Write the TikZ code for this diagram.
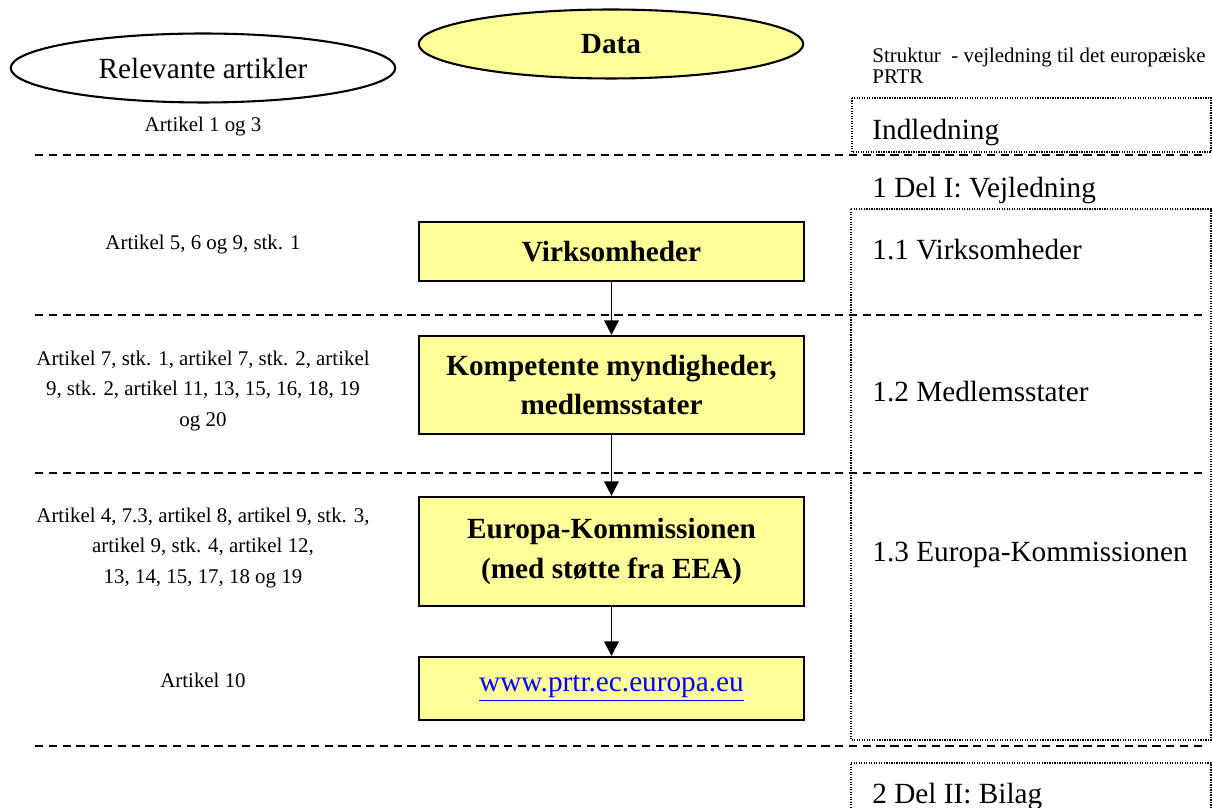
\documentclass[tikz,border=0pt]{standalone}
\usepackage{fontspec}
\setmainfont{Liberation Serif}
\usetikzlibrary{shapes.geometric, arrows.meta}
\definecolor{lightyellow}{HTML}{FFFF99}
\definecolor{linkblue}{HTML}{0000FF}

\begin{document}
\begin{tikzpicture}[x=0.4785pt, y=-0.4785pt,
    head/.style={ellipse, draw, line width=1pt, minimum width=184pt, minimum height=33pt, font=\fontsize{14}{16}\selectfont},
    actor/.style={rectangle, draw, line width=1pt, fill=lightyellow, minimum width=184pt, align=center, font=\fontsize{14}{19}\selectfont\bfseries},
    article/.style={align=center, font=\fontsize{10}{14.4}\selectfont},
    chapter/.style={anchor=base west, inner sep=0pt, font=\fontsize{14}{16}\selectfont},
    frame/.style={dash pattern=on 0.6pt off 0.6pt, line width=0.6pt},
    divider/.style={dash pattern=on 4pt off 2.6pt, line width=1pt},
    flow/.style={-{Triangle[width=7pt, length=7pt]}, line width=0.8pt}]
    \useasboundingbox (0, 0) rectangle (1212, 808);

    \node[head] (articles) at (203, 68) {Relevante artikler};
    \node[head, fill=lightyellow, font=\fontsize{14}{16}\selectfont\bfseries] (data) at (611, 44) {Data};
    \node[anchor=north west, inner sep=0pt, align=left, font=\fontsize{10}{10.2}\selectfont] (structure) at (872, 47.5)
      {Struktur\ \ - vejledning til det europæiske\\PRTR};

    \node[article] (art13) at (203, 127) {Artikel 1 og 3};
    \node[article] (art569) at (203, 245) {Artikel 5, 6 og 9, stk. 1};
    \node[article] (art7) at (203, 391) {Artikel 7, stk. 1, artikel 7, stk. 2, artikel\\9, stk. 2, artikel 11, 13, 15, 16, 18, 19\\og 20};
    \node[article] (art4) at (203, 548) {Artikel 4, 7.3, artikel 8, artikel 9, stk. 3,\\artikel 9, stk. 4, artikel 12,\\13, 14, 15, 17, 18 og 19};
    \node[article] (art10) at (203, 680) {Artikel 10};

    \node[actor, minimum height=28.2pt] (firms) at (611.5, 251.5) {Virksomheder};
    \node[actor, minimum height=46.9pt] (states) at (611.5, 385) {Kompetente myndigheder,\\medlemsstater};
    \node[actor, minimum height=52.2pt] (commission) at (611.5, 551.5) {Europa-Kommissionen\\(med støtte fra EEA)};
    \node[actor, minimum height=30.1pt, font=\fontsize{14}{16}\selectfont, text=linkblue] (website) at (611.5, 688.5) {\underline{www.prtr.ec.europa.eu}};

    \path[flow] (firms) edge (states);
    \path[flow] (states) edge (commission);
    \path[flow] (commission) edge (website);

    \draw[frame] (852, 98) rectangle (1211, 152);
    \draw[frame] (851, 209) rectangle (1211, 740);
    \draw[frame] (851, 808) -- (851, 763) -- (1211, 763) -- (1211, 808);

    \node[chapter] (intro) at (872, 140) {Indledning};
    \node[chapter] (part1) at (872, 198) {1 Del I: Vejledning};
    \node[chapter] (ch11) at (872, 260) {1.1 Virksomheder};
    \node[chapter] (ch12) at (872, 402) {1.2 Medlemsstater};
    \node[chapter] (ch13) at (872, 562) {1.3 Europa-Kommissionen};
    \node[chapter] (part2) at (872, 804) {2 Del II: Bilag};

    \foreach \y in {155, 315, 473, 746}
      \draw[divider] (35, \y) -- (1205, \y);
  \end{tikzpicture}
\end{document}
